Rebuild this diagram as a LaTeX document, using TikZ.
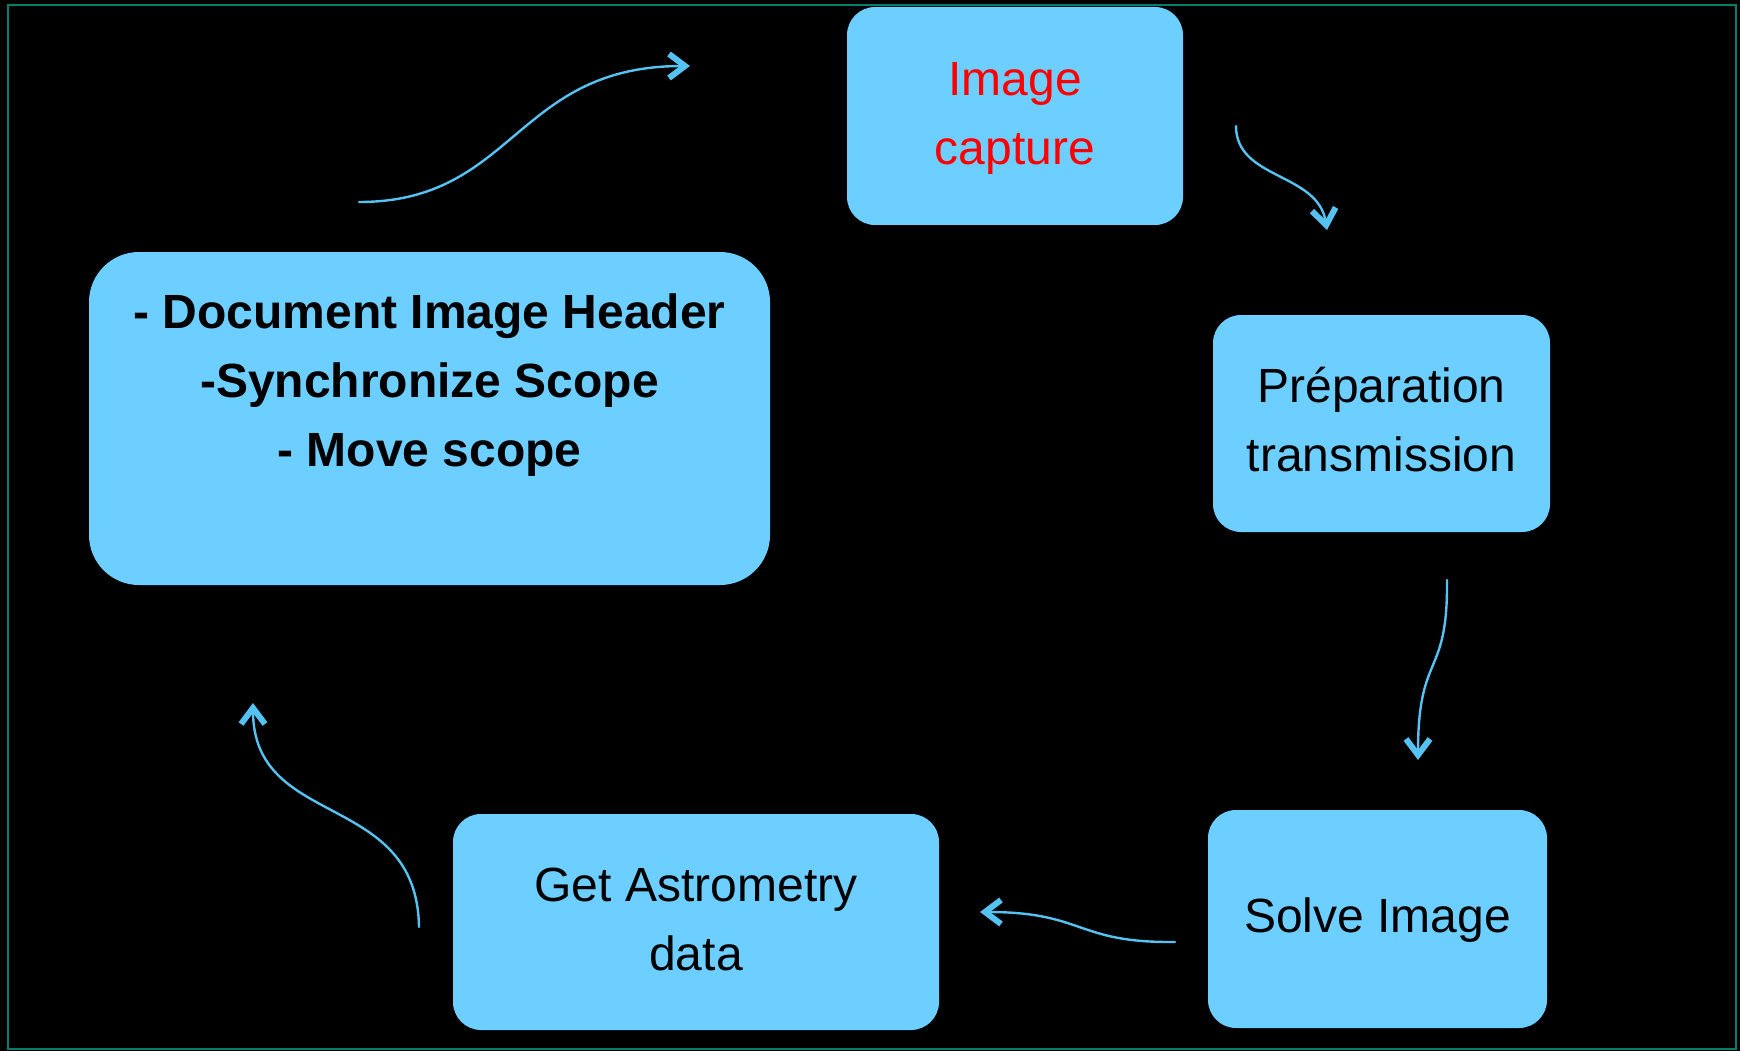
\documentclass[tikz,border=0pt]{standalone}
\usepackage{fontspec}
\setmainfont{Liberation Sans}
\usetikzlibrary{arrows.meta}

\definecolor{boxblue}{HTML}{6DCFFF}
\definecolor{flowblue}{HTML}{55C2F2}
\definecolor{framegreen}{HTML}{00806A}
\newcommand{\boxfont}{\fontsize{48}{69}\selectfont}

\begin{document}
\begin{tikzpicture}[x=1pt, y=-1pt,
		stepbox/.style={rectangle, fill=boxblue, rounded corners=28pt, minimum width=337pt, minimum height=217pt, align=center, font=\boxfont},
		flow/.style={draw=flowblue, line width=2.4pt, line cap=round, -{Straight Barb[length=16pt, width=24pt, line width=6pt]}}]
		\fill[black] (0, 0) rectangle (1740, 1051);
		\draw[framegreen, line width=2.5pt] (8, 5) rectangle (1736, 1049);

		\draw 
		(429.5, 418.5) node [stepbox, minimum width=681pt, minimum height=333pt, rounded corners=50pt, font=\boxfont\bfseries] (header) {\strut- Document Image Header\\-Synchronize Scope\\- Move scope\\\strut}
		(1015, 116) node [stepbox, text=red, minimum width=336pt, minimum height=218pt] (capture) {\strut Image\\capture\strut}
		(1381.5, 423.5) node [stepbox] (prep) {\strut Préparation\\transmission\strut}
		(1377.5, 919) node [stepbox, minimum width=339pt, minimum height=218pt] (solve) {\strut Solve Image}
		(696, 922) node [stepbox, minimum width=486pt, minimum height=216pt] (astro) {\strut Get Astrometry\\data\strut};

		\coordinate (header-exit) at (359, 202);
		\coordinate (capture-entry) at (690, 66);
		\coordinate (capture-exit) at (1236, 126);
		\coordinate (prep-entry) at (1327, 230);
		\coordinate (prep-exit) at (1447, 580);
		\coordinate (solve-entry) at (1418, 760);
		\coordinate (solve-exit) at (1175, 942);
		\coordinate (astro-entry) at (980, 912);
		\coordinate (astro-exit) at (419, 927);
		\coordinate (header-entry) at (253, 703);

		\draw[flow] (header-exit) .. controls (515, 202) and (515, 66) .. (capture-entry);
		\draw[flow] (capture-exit) .. controls (1236, 180) and (1318, 172) .. (prep-entry);
		\draw[flow] (prep-exit) .. controls (1448, 680) and (1418, 650) .. (solve-entry);
		\draw[flow] (solve-exit) .. controls (1075, 943) and (1085, 912) .. (astro-entry);
		\draw[flow] (astro-exit) .. controls (417, 790) and (253, 830) .. (header-entry);
	\end{tikzpicture}
\end{document}
